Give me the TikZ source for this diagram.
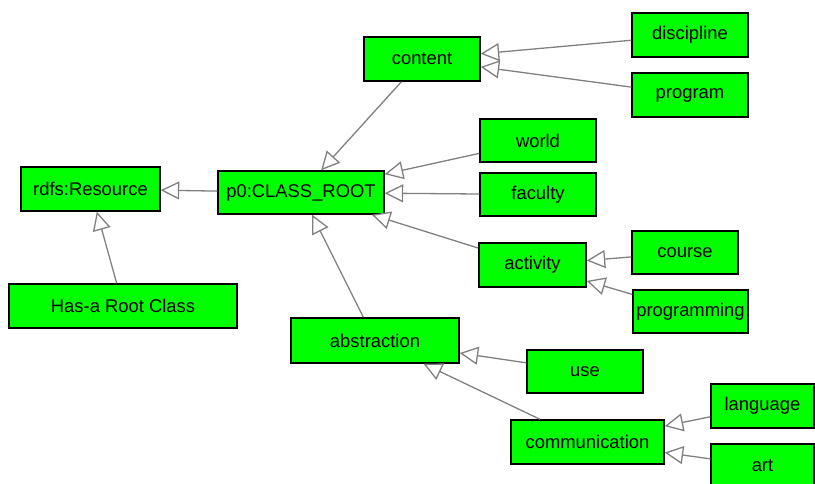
\documentclass[tikz,border=0pt]{standalone}
\usepackage{fontspec}
\setmainfont{Liberation Sans}
\usetikzlibrary{arrows.meta}
\definecolor{boxgreen}{RGB}{0,255,0}
\definecolor{edgegray}{RGB}{128,128,128}
\begin{document}
\begin{tikzpicture}[x=1pt,y=-1pt,
  cls/.style={draw=black,line width=1.4pt,fill=boxgreen,inner sep=0pt,
    minimum height=44pt,font=\fontsize{18.4pt}{20pt}\selectfont,text=black},
  isa/.style={draw=edgegray,line width=1.3pt,
    -{Triangle[length=18.5pt,width=18pt,fill=white,line width=1.3pt]}}]
\useasboundingbox (0,0) rectangle (815,483);
\node[cls,minimum width=139pt] (rdfs) at (90.5,189) {rdfs:Resource};
\node[cls,minimum width=228pt] (hasa) at (123,306) {Has-a Root Class};
\node[cls,minimum width=166pt,minimum height=43pt] (root) at (301,192.5) {p0:CLASS\_ROOT};
\node[cls,minimum width=116pt] (content) at (422,59) {content};
\node[cls,minimum width=116pt] (discipline) at (690,35) {discipline};
\node[cls,minimum width=116pt] (program) at (690,95) {program};
\node[cls,minimum width=116pt,minimum height=43pt] (world) at (538,140.5) {world};
\node[cls,minimum width=116pt,minimum height=43pt] (faculty) at (538,194.5) {faculty};
\node[cls,minimum width=107pt] (activity) at (532.5,265) {activity};
\node[cls,minimum width=106pt,minimum height=43pt] (course) at (685,252.5) {course};
\node[cls,minimum width=115pt,minimum height=43pt] (programming) at (690.5,311.5) {programming};
\node[cls,minimum width=168pt,minimum height=45pt] (abstraction) at (375,340.5) {abstraction};
\node[cls,minimum width=116pt,minimum height=43pt] (use) at (585,371.5) {use};
\node[cls,minimum width=153pt] (communication) at (587.5,442) {communication};
\node[cls,minimum width=103pt] (language) at (762.5,406) {language};
\node[cls,minimum width=103pt] (art) at (762.5,466) {art};
\draw[isa] (root) -- (rdfs);
\draw[isa] (hasa) -- (rdfs);
\draw[isa] (content) -- (root);
\draw[isa] (world) -- (root);
\draw[isa] (faculty) -- (root);
\draw[isa] (activity) -- (root);
\draw[isa] (abstraction) -- (root);
\draw[isa] (discipline) -- (content);
\draw[isa] (program) -- (content);
\draw[isa] (course) -- (activity);
\draw[isa] (programming) -- (activity);
\draw[isa] (use) -- (abstraction);
\draw[isa] (communication) -- (abstraction);
\draw[isa] (language) -- (communication);
\draw[isa] (art) -- (communication);
\end{tikzpicture}
\end{document}
